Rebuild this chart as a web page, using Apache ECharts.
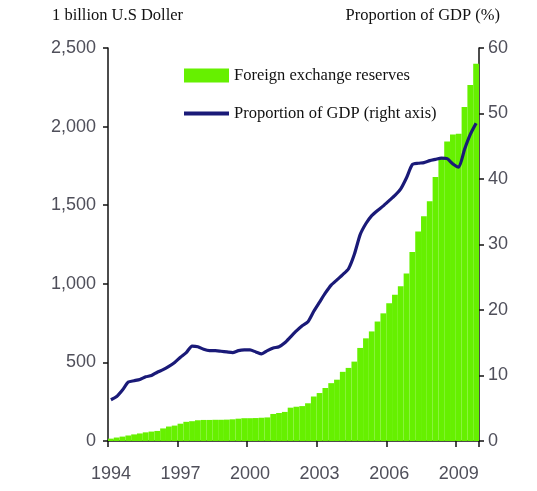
<!DOCTYPE html>
<html>
<head>
<meta charset="utf-8">
<script src="https://cdn.jsdelivr.net/npm/echarts@6/dist/echarts.min.js"></script>
<style>html,body{margin:0;padding:0;background:#fff;}#c{width:537px;height:491px;}</style>
</head>
<body>
<div id="c"></div>
<script>
// Quarterly data, 1994Q1 .. 2009Q4
const years = [1994,1995,1996,1997,1998,1999,2000,2001,2002,2003,2004,2005,2006,2007,2008,2009];
const quarters = [1,2,3,4];
// Foreign exchange reserves (billion US$), by quarter
const reserves = [
  15, 22, 28, 35,
  42, 48, 55, 60,
  64, 80, 92, 98,
  110, 122, 126, 132,
  134, 134, 135, 135,
  136, 138, 142, 145,
  145, 146, 148, 150,
  172, 178, 185, 212,
  218, 222, 240, 283,
  305, 337, 368, 390,
  440, 465, 505, 592,
  653, 697, 760, 812,
  876, 930, 985, 1066,
  1202, 1333, 1430, 1525,
  1680, 1800, 1905, 1950,
  1955, 2125, 2265, 2400
];
// Proportion of GDP (%), by quarter
const gdpShare = [
  6.3, 6.8, 7.8, 9.0,
  9.2, 9.4, 9.8, 10.0,
  10.5, 10.9, 11.4, 12.0,
  12.8, 13.5, 14.5, 14.4,
  14.0, 13.8, 13.8, 13.7,
  13.6, 13.5, 13.8, 13.9,
  13.9, 13.6, 13.3, 13.8,
  14.2, 14.4, 15.0, 15.9,
  16.8, 17.6, 18.2, 19.8,
  21.2, 22.6, 23.8, 24.6,
  25.4, 26.3, 28.5, 31.5,
  33.2, 34.4, 35.2, 35.9,
  36.7, 37.5, 38.5, 40.2,
  42.2, 42.4, 42.5, 42.8,
  43.0, 43.2, 43.1, 42.3,
  41.8, 44.5, 46.8, 48.5
];
const yearLabels = [1994, 1997, 2000, 2003, 2006, 2009];
const leftTicks = {min: 0, max: 2500, interval: 500};
const rightTicks = {min: 0, max: 60, interval: 10};
const leftTitle = '1 billion U.S Doller';
const rightTitle = 'Proportion of GDP (%)';
const seriesNames = ['Foreign exchange reserves', 'Proportion of GDP (right axis)'];

const categories = [];
years.forEach(y => quarters.forEach(q => categories.push(y + 'Q' + q)));
const isLabelCat = (idx) => {
  const c = categories[idx];
  return c.endsWith('Q1') && yearLabels.indexOf(parseInt(c)) >= 0;
};

const labelFont = "'Liberation Sans Narrow', 'Liberation Sans', Arial, sans-serif";
const serif = "'Liberation Serif', 'Times New Roman', serif";

const chart = echarts.init(document.getElementById('c'), null, {renderer: 'canvas'});
chart.setOption({
  backgroundColor: '#ffffff',
  animation: false,
  title: [
    {text: leftTitle, left: 52, top: 7, padding: 0, textStyle: {fontFamily: serif, fontSize: 16.5, fontWeight: 'normal', color: '#111'}},
    {text: rightTitle, right: 37, top: 7, padding: 0, textStyle: {fontFamily: serif, fontSize: 16.5, fontWeight: 'normal', color: '#111'}}
  ],
  legend: {
    orient: 'vertical',
    left: 182, top: 67, padding: 0,
    itemWidth: 45, itemHeight: 14, itemGap: 21,
    textStyle: {fontFamily: serif, fontSize: 16.5, color: '#111'},
    data: [
      {name: seriesNames[0], icon: 'rect'},
      {name: seriesNames[1], itemStyle: {opacity: 0}, lineStyle: {width: 4, color: '#1a1a78'}}
    ]
  },
  grid: {left: 108, right: 58, top: 48, bottom: 50, containLabel: false},
  xAxis: {
    type: 'category',
    data: categories,
    boundaryGap: true,
    axisLine: {lineStyle: {color: '#111', width: 1.5}},
    axisTick: {show: true, length: 6, lineStyle: {color: '#111', width: 1.5},
      interval: (idx) => isLabelCat(idx)},
    axisLabel: {interval: (idx) => isLabelCat(idx), formatter: (v) => String(parseInt(v)),
      margin: 24, fontFamily: labelFont, fontSize: 18, color: '#4f4f5a'},
    splitLine: {show: false}
  },
  yAxis: [
    {
      type: 'value', position: 'left',
      min: leftTicks.min, max: leftTicks.max, interval: leftTicks.interval,
      axisLine: {show: true, lineStyle: {color: '#111', width: 1.5}},
      axisTick: {show: true, length: 5, lineStyle: {color: '#111', width: 1.5}},
      axisLabel: {margin: 12, fontFamily: labelFont, fontSize: 18, color: '#4f4f5a',
        formatter: (v) => v.toLocaleString('en-US')},
      splitLine: {show: false}
    },
    {
      type: 'value', position: 'right',
      min: rightTicks.min, max: rightTicks.max, interval: rightTicks.interval,
      axisLine: {show: true, lineStyle: {color: '#111', width: 1.5}},
      axisTick: {show: true, length: 5, lineStyle: {color: '#111', width: 1.5}},
      axisLabel: {margin: 9, fontFamily: labelFont, fontSize: 18, color: '#4f4f5a'},
      splitLine: {show: false}
    }
  ],
  series: [
    {
      name: seriesNames[0], type: 'bar', yAxisIndex: 0,
      data: reserves, barCategoryGap: '0%',
      itemStyle: {color: '#66f000'}
    },
    {
      name: seriesNames[1], type: 'line', yAxisIndex: 1,
      data: gdpShare, symbol: 'none', smooth: 0.2,
      lineStyle: {color: '#1a1a78', width: 3.2},
      itemStyle: {color: '#1a1a78'}
    }
  ]
});
</script>
</body>
</html>
